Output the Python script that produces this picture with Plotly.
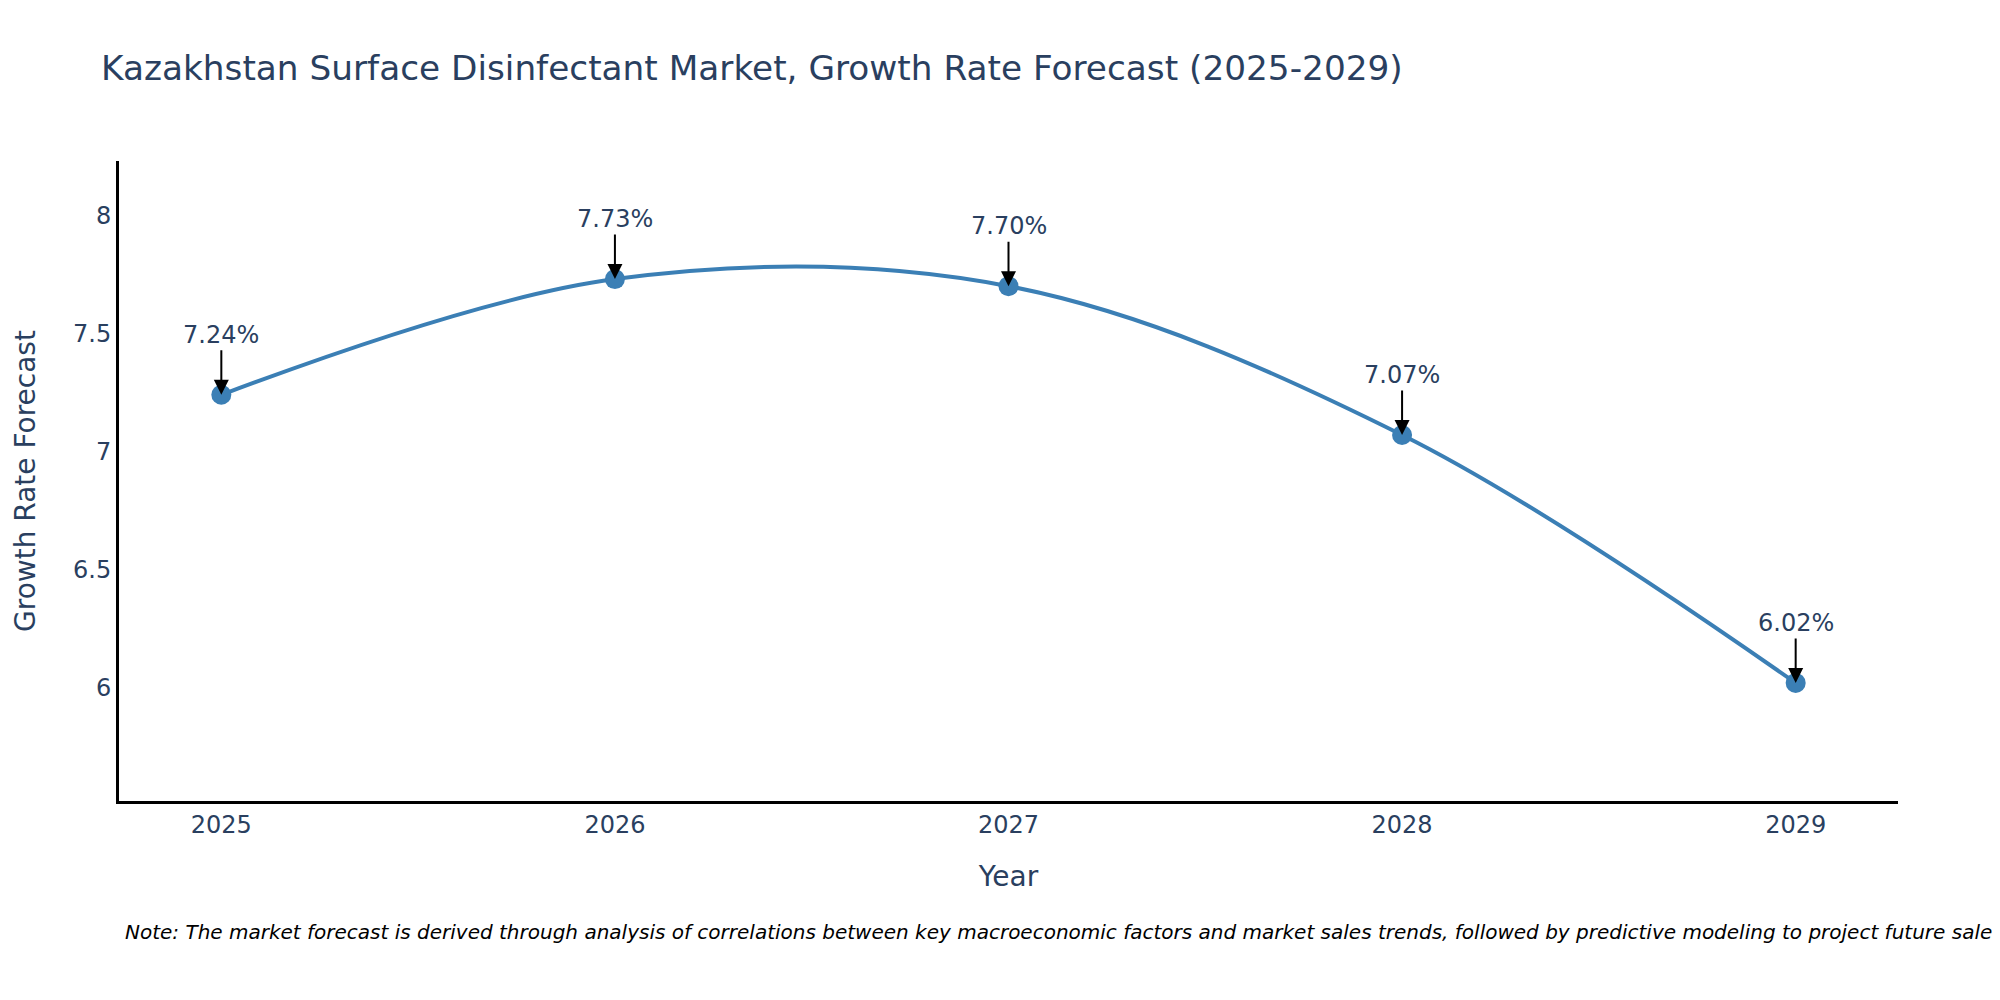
import plotly.graph_objects as go

years = [2025, 2026, 2027, 2028, 2029]
growth = [7.24, 7.73, 7.70, 7.07, 6.02]
labels = ["7.24%", "7.73%", "7.70%", "7.07%", "6.02%"]

title_text = "Kazakhstan Surface Disinfectant Market, Growth Rate Forecast (2025-2029)"
note_text = ("Note: The market forecast is derived through analysis of correlations between key "
             "macroeconomic factors and market sales trends, followed by predictive modeling to "
             "project future sales.")

line_color = "#3b7fb5"
text_color = "#2a3f5f"
family = "DejaVu Sans, Verdana, sans-serif"

fig = go.Figure()
fig.add_trace(go.Scatter(
    x=years, y=growth, mode="lines+markers",
    line=dict(shape="spline", color=line_color, width=4),
    marker=dict(size=20, color=line_color),
    showlegend=False,
))

for xv, yv, lab in zip(years, growth, labels):
    fig.add_annotation(
        x=xv, y=yv, text=lab, showarrow=True,
        arrowhead=2, arrowsize=1.5, arrowwidth=2, arrowcolor="black",
        ax=0, ay=-60, font=dict(size=24, color=text_color),
    )

fig.add_annotation(
    x=0.002, y=-0.205, xref="paper", yref="paper", xanchor="left", yanchor="middle",
    text="<i>" + note_text + "</i>", showarrow=False,
    font=dict(size=20, color="black"), align="left",
)

fig.update_layout(
    width=2000, height=1000,
    paper_bgcolor="white", plot_bgcolor="white",
    margin=dict(l=111, r=110, t=153, b=207),
    title=dict(text=title_text, x=0.0465, xanchor="left", y=0.94, yanchor="middle",
               font=dict(size=34.3, color=text_color)),
    font=dict(color=text_color, family=family),
    xaxis=dict(title=dict(text="Year", font=dict(size=28), standoff=29),
               range=[2024.74, 2029.26],
               tickmode="array", tickvals=years, ticktext=[str(y) for y in years],
               tickfont=dict(size=24), showgrid=False, zeroline=False,
               showline=True, linecolor="black", linewidth=3),
    yaxis=dict(title=dict(text="Growth Rate Forecast", font=dict(size=28), standoff=30),
               range=[5.52, 8.23], dtick=0.5, tickfont=dict(size=24),
               showgrid=False, zeroline=False,
               showline=True, linecolor="black", linewidth=3),
)

fig.write_html("out.html")
